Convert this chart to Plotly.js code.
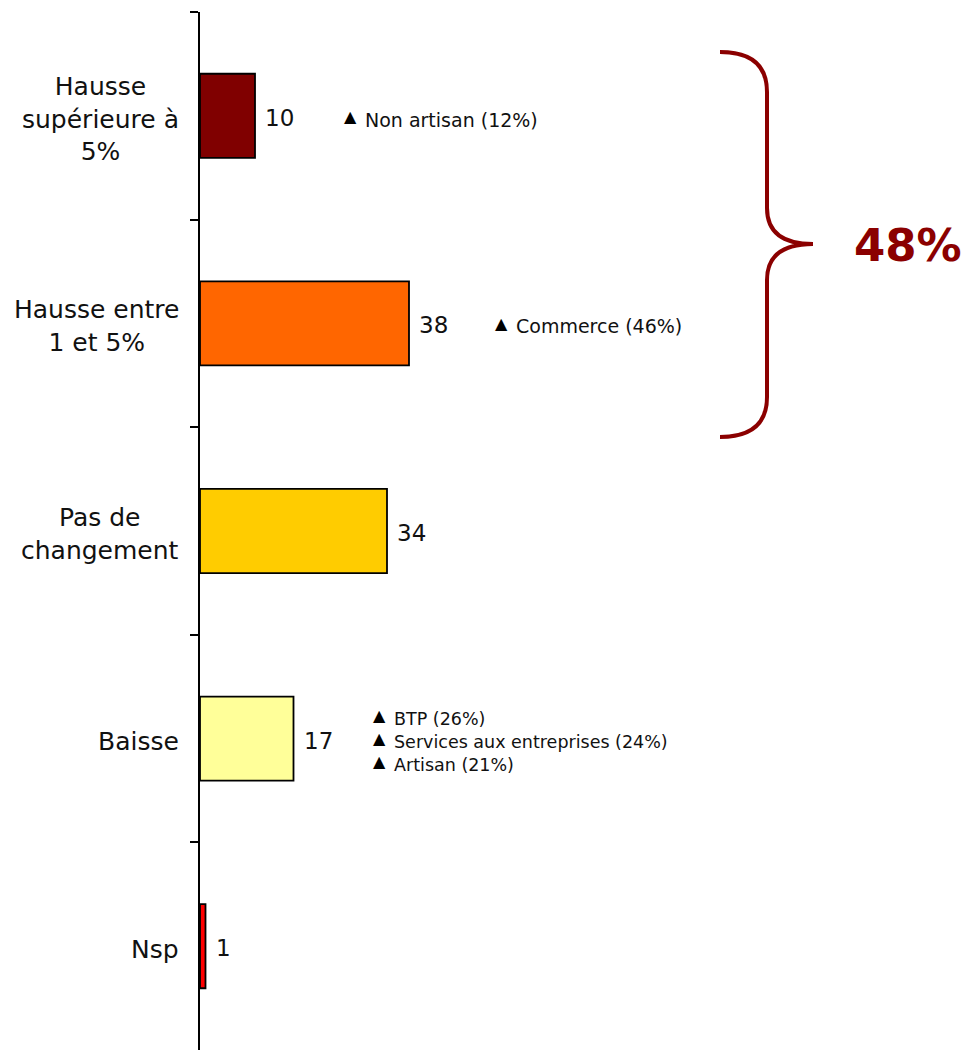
<!DOCTYPE html>
<html>
<head>
<meta charset="utf-8">
<script src="https://cdn.plot.ly/plotly-3.0.1.min.js"></script>
<style>html,body{margin:0;padding:0;background:#fff;}#chart{width:966px;height:1051px;}</style>
</head>
<body>
<div id="chart"></div>
<script>
// ---- data ----
const categories = ["Hausse supérieure à 5%", "Hausse entre 1 et 5%", "Pas de changement", "Baisse", "Nsp"];
const categoryLabels = ["Hausse<br>supérieure à<br>5%", "Hausse entre<br>1 et 5%", "Pas de<br>changement", "Baisse", "Nsp"];
const values = [10, 38, 34, 17, 1];
const barColors = ["#800000", "#FF6600", "#FFCC00", "#FFFF99", "#FF0000"];
const notes = [
  ["Non artisan (12%)"],
  ["Commerce (46%)"],
  [],
  ["BTP (26%)", "Services aux entreprises (24%)", "Artisan (21%)"],
  []
];
const totalHausse = "48%";

// ---- layout helpers (pixel -> paper) ----
const L = 200, W = 766, T = 12, H = 1038;
const px = x => (x - L) / W;
const py = y => (T + H - y) / H;

const noteX = [342, 493, null, 371, null];
const noteShift = [-4, -3, 0, -3, 0];
const FONT = "DejaVu Sans, Verdana, sans-serif";

const annotations = [];
categories.forEach((c, i) => {
  annotations.push({
    xref: "paper", yref: "y", x: 0, y: c, xanchor: "right", yanchor: "middle",
    xshift: -19, yshift: -3, align: "center", showarrow: false,
    text: categoryLabels[i],
    font: {family: FONT, size: 25, color: "#111"}
  });
  annotations.push({
    xref: "x", yref: "y", x: values[i], y: c, xanchor: "left", yanchor: "middle",
    xshift: 8, yshift: -2, showarrow: false, text: String(values[i]),
    font: {family: FONT, size: 23, color: "#111"}
  });
  if (notes[i].length) {
    const fs = notes[i].length > 1 ? 17.5 : 19;
    annotations.push({
      xref: "paper", yref: "y", x: px(noteX[i]), y: c, xanchor: "left", yanchor: "middle",
      yshift: noteShift[i] + 3, align: "left", showarrow: false,
      text: notes[i].map(() => '<span style="font-size:16px">▲</span>').join("<br>"),
      font: {family: FONT, size: fs, color: "#000"}
    });
    annotations.push({
      xref: "paper", yref: "y", x: px(noteX[i] + 21), y: c, xanchor: "left", yanchor: "middle",
      yshift: noteShift[i], align: "left", showarrow: false,
      text: notes[i].join("<br>"),
      font: {family: FONT, size: fs, color: "#111"}
    });
  }
});
annotations.push({
  xref: "paper", yref: "paper", x: px(852), y: py(245), xanchor: "left", yanchor: "middle",
  showarrow: false, text: "<b>" + totalHausse + "</b>",
  font: {family: FONT, size: 45, color: "#8B0000"}
});

const bracePath = [
  "M", px(720), py(52),
  "Q", px(767), py(52), px(767), py(92),
  "L", px(767), py(208),
  "Q", px(767), py(244), px(813), py(244),
  "Q", px(767), py(244), px(767), py(280),
  "L", px(767), py(397),
  "Q", px(767), py(437), px(720), py(437)
].join(" ");

const trace = {
  type: "bar", orientation: "h",
  y: categories, x: values,
  marker: {color: barColors, line: {color: "#000", width: 1.8}},
  width: 0.405,
  hoverinfo: "none"
};

const layout = {
  width: 966, height: 1051,
  margin: {l: L, r: 966 - L - W, t: T, b: 1051 - T - H, pad: 0},
  paper_bgcolor: "#fff", plot_bgcolor: "#fff",
  showlegend: false,
  xaxis: {range: [0, W / 5.5], showgrid: false, zeroline: false, showline: false,
          showticklabels: false, ticks: "", fixedrange: true},
  yaxis: {type: "category", autorange: false, range: [4.5, -0.5],
          showline: true, linecolor: "#000", linewidth: 2,
          ticks: "outside", tickson: "boundaries", ticklen: 8, tickwidth: 2, tickcolor: "#000",
          showticklabels: false, showgrid: false, zeroline: false, fixedrange: true},
  shapes: [{type: "path", xref: "paper", yref: "paper", path: bracePath,
            line: {color: "#8B0000", width: 4}, fillcolor: "rgba(0,0,0,0)"}],
  annotations: annotations
};

Plotly.newPlot("chart", [trace], layout, {displayModeBar: false, staticPlot: true});
</script>
</body>
</html>
